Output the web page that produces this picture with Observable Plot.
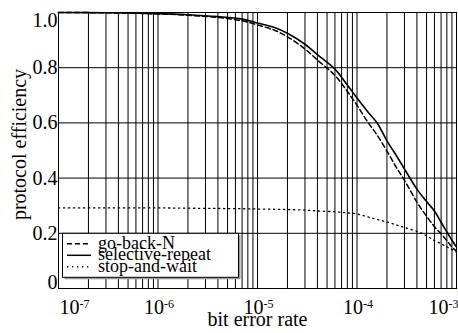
<!DOCTYPE html>
<html>
<head>
<meta charset="utf-8">
<script src="https://cdn.jsdelivr.net/npm/d3@7"></script>
<script src="https://cdn.jsdelivr.net/npm/@observablehq/plot@0.6"></script>
<style>
  html, body { margin: 0; padding: 0; background: white; }
  svg { display: block; }
</style>
</head>
<body>
<div id="chart"></div>
<script>
// Bit error rate sample points
const ber = [1e-7, 3e-7, 1e-6, 2e-6, 4e-6, 7e-6, 1e-5, 1.5e-5, 2e-5, 3e-5, 4e-5, 6e-5, 8e-5,
             1e-4, 1.3e-4, 1.6e-4, 2e-4, 2.5e-4, 3e-4, 4e-4, 5e-4, 6e-4, 7e-4, 8e-4, 9e-4, 1e-3];
// Protocol efficiency series
const goBackN = [1.0, 0.999, 0.995, 0.99, 0.982, 0.97, 0.955, 0.935, 0.912, 0.868, 0.828, 0.772, 0.714,
                 0.664, 0.600, 0.555, 0.498, 0.437, 0.392, 0.313, 0.262, 0.224, 0.198, 0.174, 0.150, 0.135];
const selectiveRepeat = [1.0, 0.999, 0.996, 0.992, 0.985, 0.976, 0.962, 0.945, 0.925, 0.885, 0.847, 0.795, 0.737,
                 0.690, 0.638, 0.599, 0.535, 0.480, 0.433, 0.360, 0.315, 0.281, 0.240, 0.205, 0.175, 0.150];
const stopAndWait = [0.292, 0.292, 0.292, 0.291, 0.290, 0.289, 0.288, 0.287, 0.286, 0.284, 0.281, 0.278, 0.274,
                 0.270, 0.259, 0.250, 0.241, 0.230, 0.221, 0.207, 0.191, 0.174, 0.162, 0.151, 0.141, 0.131];

const seriesNames = ["go-back-N", "selective-repeat", "stop-and-wait"];
const seriesDash = ["5,3", null, "1.3,3.7"];

// Axis ticks
const xMajor = [1e-7, 1e-6, 1e-5, 1e-4, 1e-3];
const xTickBase = ["10", "10", "10", "10", "10"];
const xTickExp = ["-7", "-6", "-5", "-4", "-3"];
const yTicks = [0, 0.2, 0.4, 0.6, 0.8, 1.0];
const yTickLabels = ["0", "0.2", "0.4", "0.6", "0.8", "1.0"];
const yGrid = [0.2, 0.4, 0.6, 0.8];
const xLabel = "bit error rate";
const yLabel = "protocol efficiency";

const xGrid = d3.scaleLog().domain([1e-7, 1e-3]).ticks();

const toRows = (vals) => ber.map((x, i) => ({x, y: vals[i]}));
const font = "'Liberation Serif', 'Times New Roman', serif";

const xt = xMajor.map((v, i) => ({v, i, label: xTickBase[i] + "^" + xTickExp[i]}));
const yt = yTicks.map((v, i) => ({v, label: yTickLabels[i]}));

const chart = Plot.plot({
  width: 458,
  height: 333,
  marginLeft: 58,
  marginRight: 2,
  marginTop: 12,
  marginBottom: 45,
  style: {fontFamily: font, background: "white", color: "black", overflow: "visible"},
  x: {type: "log", domain: [1e-7, 1e-3], axis: null},
  y: {domain: [0, 1], axis: null},
  marks: [
    Plot.ruleX(xGrid, {stroke: "black", strokeWidth: 1}),
    Plot.ruleY(yGrid, {stroke: "black", strokeWidth: 1}),
    Plot.line(toRows(stopAndWait), {x: "x", y: "y", stroke: "black", strokeWidth: 1.3, strokeDasharray: seriesDash[2], curve: "catmull-rom"}),
    Plot.line(toRows(goBackN), {x: "x", y: "y", stroke: "black", strokeWidth: 1.5, strokeDasharray: seriesDash[0], curve: "catmull-rom"}),
    Plot.line(toRows(selectiveRepeat), {x: "x", y: "y", stroke: "black", strokeWidth: 1.6, curve: "catmull-rom"}),
    Plot.frame({stroke: "black", strokeWidth: 1}),
    // x tick labels
    Plot.text(xt.filter(d => d.i === 0), {x: "v", frameAnchor: "bottom", dy: 25, lineAnchor: "bottom", textAnchor: "start", dx: 1, text: "label", fontSize: 20}),
    Plot.text(xt.filter(d => d.i > 0 && d.i < 4), {x: "v", frameAnchor: "bottom", dy: 25, lineAnchor: "bottom", textAnchor: "middle", dx: 1, text: "label", fontSize: 20}),
    Plot.text(xt.filter(d => d.i === 4), {x: "v", frameAnchor: "bottom", dy: 25, lineAnchor: "bottom", textAnchor: "end", dx: 2, text: "label", fontSize: 20}),
    // y tick labels
    Plot.text(yt.filter(d => d.v > 0 && d.v < 1), {y: "v", frameAnchor: "left", dx: -1, textAnchor: "end", lineAnchor: "middle", text: "label", fontSize: 20}),
    Plot.text(yt.filter(d => d.v === 0), {y: "v", frameAnchor: "left", dx: -1, dy: -6, textAnchor: "end", lineAnchor: "middle", text: "label", fontSize: 20}),
    Plot.text(yt.filter(d => d.v === 1), {y: "v", frameAnchor: "left", dx: -1, dy: 8, textAnchor: "end", lineAnchor: "middle", text: "label", fontSize: 20}),
    // axis labels
    Plot.text([xLabel], {frameAnchor: "bottom", dy: 37, lineAnchor: "bottom", textAnchor: "middle", text: d => d, fontSize: 20}),
    Plot.text([yLabel], {frameAnchor: "left", dx: -33, dy: -6, rotate: -90, textAnchor: "middle", lineAnchor: "bottom", text: d => d, fontSize: 20})
  ]
});

document.getElementById("chart").appendChild(chart);

// superscripts for x tick labels
d3.select(chart).selectAll("text").each(function() {
  const t = this.textContent;
  const m = /^(\d+)\^(.+)$/.exec(t);
  if (m) {
    const sel = d3.select(this);
    sel.text(null);
    sel.append("tspan").text(m[1]);
    sel.append("tspan").attr("dy", "-0.45em").attr("font-size", "12px").text(m[2]);
  }
});

// legend box
const yScale = chart.scale("y");
const xScale = chart.scale("x");
const legTop = yScale.apply(0.2);
const legLeft = xScale.apply(1e-7) + 4;
const g = d3.select(chart).append("g").attr("font-family", font).attr("font-size", 18)
  .attr("text-anchor", "start");
g.append("rect").attr("x", legLeft + 2.5).attr("y", legTop + 2.5).attr("width", 176).attr("height", 44)
  .attr("fill", "#999");
g.append("rect").attr("x", legLeft + 0.5).attr("y", legTop + 0.5).attr("width", 176).attr("height", 44)
  .attr("fill", "white").attr("stroke", "black").attr("stroke-width", 1);
seriesNames.forEach((name, i) => {
  const cy = legTop + 11 + i * 11.5;
  const line = g.append("line").attr("x1", legLeft + 5).attr("x2", legLeft + 29)
    .attr("y1", cy).attr("y2", cy).attr("stroke", "black").attr("stroke-width", 1.5);
  if (seriesDash[i]) line.attr("stroke-dasharray", seriesDash[i]);
  g.append("text").attr("x", legLeft + 36).attr("y", cy + 5).attr("text-anchor", "start").text(name);
});
</script>
</body>
</html>
